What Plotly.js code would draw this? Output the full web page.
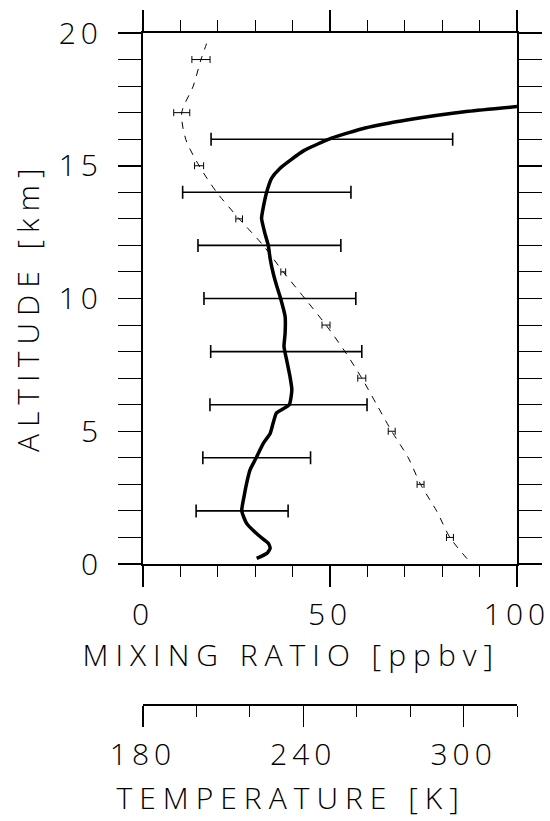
<!DOCTYPE html>
<html>
<head>
<meta charset="utf-8">
<script src="https://cdn.plot.ly/plotly-3.0.1.min.js"></script>
<style>
  html, body { margin: 0; padding: 0; background: #fff; }
  #chart { width: 550px; height: 821px; }
  #chart svg text { letter-spacing: 5px; }
  #chart .annotation text { letter-spacing: 7px; }
</style>
</head>
<body>
<div id="chart"></div>
<script>
// Mixing ratio profile (solid line)
const mrAltitude = [0.21, 0.40, 0.59, 0.78, 1.09, 1.53, 2.00, 2.53, 3.04, 3.54, 3.98, 4.55, 4.92, 5.31, 5.69, 6.00, 6.56, 7.06, 7.69, 8.19, 8.69, 9.32, 10.00, 10.50, 10.96, 11.50, 12.00, 12.45, 13.02, 13.46, 14.02, 14.53, 14.90, 15.56, 16.04, 16.42, 16.73, 17.05, 17.23];
const mrValue    = [30.4, 33.1, 34.0, 33.5, 30.8, 27.7, 26.4, 27.0, 27.7, 28.6, 30.2, 32.2, 34.0, 34.8, 35.7, 39.1, 39.8, 39.3, 38.4, 37.7, 38.0, 38.0, 36.8, 35.7, 34.8, 34.0, 33.5, 32.6, 31.7, 32.2, 33.1, 34.4, 36.6, 42.9, 50.4, 59.4, 70.9, 87.0, 100.0];

// Mixing ratio variability bars
const errAltitude = [2, 4, 6, 8, 10, 12, 14, 16];
const errCenter   = [26.5, 30.4, 38.9, 38.3, 36.6, 33.8, 33.1, 50.5];
const errHalf     = [12.3, 14.4, 21.0, 20.2, 20.3, 19.1, 22.5, 32.3];

// Temperature profile (dashed line)
const tAltitude = [0.2, 1, 2, 3, 4, 5, 6, 7, 8, 9, 10, 11, 12, 13, 14, 15, 16, 17, 18, 19, 19.6];
const tValue    = [301.3, 294.9, 289.9, 283.9, 279.3, 273.1, 267.5, 261.9, 255.6, 248.5, 240.6, 232.5, 225.0, 216.0, 207.6, 201.0, 196.0, 194.5, 198.8, 201.7, 203.8];

// Temperature error bars
const tErrAltitude = [1, 3, 5, 7, 9, 11, 13, 15, 17, 19];
const tErrValue    = [294.9, 283.9, 273.1, 261.9, 248.5, 232.5, 216.0, 201.0, 194.5, 201.7];
const tErrHalf     = [1.3, 1.3, 1.3, 1.5, 1.5, 0.9, 1.25, 1.7, 3.0, 3.4];

// Axis ticks
const mrTicks = [0, 50, 100];
const mrTickText = ['0', '50', '100'];
const mrMinor = [10, 20, 30, 40, 60, 70, 80, 90];
const altTicks = [0, 5, 10, 15, 20];
const altTickText = ['0', '5', '10', '15', '20'];
const altMinor = [1, 2, 3, 4, 6, 7, 8, 9, 11, 12, 13, 14, 16, 17, 18, 19];
const tTicks = [180, 240, 300];
const tTickText = ['180', '240', '300'];
const tMinor = [200, 220, 260, 280, 320];

const FONT = {family: 'Open Sans, Liberation Sans, sans-serif', size: 30, color: '#000', weight: 300};

const traces = [
  {
    x: tValue, y: tAltitude, xaxis: 'x2', yaxis: 'y',
    type: 'scatter', mode: 'lines',
    line: {color: '#000', width: 1, dash: '7px,7px', shape: 'spline', smoothing: 0.8},
    hoverinfo: 'skip'
  },
  {
    x: tErrValue, y: tErrAltitude, xaxis: 'x2', yaxis: 'y',
    type: 'scatter', mode: 'markers',
    marker: {size: 1, color: 'rgba(0,0,0,0)'},
    error_x: {type: 'data', array: tErrHalf, symmetric: true, color: '#000', thickness: 1, width: 3.5},
    hoverinfo: 'skip'
  },
  {
    x: errCenter, y: errAltitude, xaxis: 'x', yaxis: 'y',
    type: 'scatter', mode: 'markers',
    marker: {size: 1, color: 'rgba(0,0,0,0)'},
    error_x: {type: 'data', array: errHalf, symmetric: true, color: '#000', thickness: 1.6, width: 6.5},
    hoverinfo: 'skip'
  },
  {
    x: mrValue, y: mrAltitude, xaxis: 'x', yaxis: 'y',
    type: 'scatter', mode: 'lines',
    line: {color: '#000', width: 3.5, shape: 'spline', smoothing: 0.5},
    hoverinfo: 'skip'
  }
];

const axisCommon = {
  showline: true, linecolor: '#000', linewidth: 2,
  ticks: 'outside', tickcolor: '#000', tickwidth: 1.5,
  showgrid: false, zeroline: false, tickfont: FONT, tickmode: 'array'
};

const layout = {
  width: 550, height: 821,
  margin: {l: 143, r: 33, t: 33, b: 117, pad: 0},
  paper_bgcolor: '#fff', plot_bgcolor: 'rgba(0,0,0,0)',
  showlegend: false,
  font: FONT,
  xaxis: Object.assign({}, axisCommon, {
    range: [0, 100], domain: [0, 1], anchor: 'y', mirror: 'allticks',
    tickvals: mrTicks, ticktext: mrTickText, ticklen: 21, ticklabelstandoff: 2,
    minor: {tickmode: 'array', tickvals: mrMinor, ticks: 'outside', ticklen: 11, tickwidth: 1, tickcolor: '#000', showgrid: false}
  }),
  yaxis: Object.assign({}, axisCommon, {
    range: [0, 20], domain: [0.20864, 1], anchor: 'x', mirror: 'allticks',
    tickvals: altTicks, ticktext: altTickText, ticklen: 23, ticklabelstandoff: 9,
    minor: {tickmode: 'array', tickvals: altMinor, ticks: 'outside', ticklen: 12, tickwidth: 1, tickcolor: '#000', showgrid: false}
  }),
  xaxis2: Object.assign({}, axisCommon, {
    range: [180, 320], domain: [0, 1], anchor: 'free', position: 0, side: 'bottom',
    linewidth: 1.5,
    tickvals: tTicks, ticktext: tTickText, ticklen: 21, ticklabelstandoff: 2,
    minor: {tickmode: 'array', tickvals: tMinor, ticks: 'outside', ticklen: 11, tickwidth: 1, tickcolor: '#000', showgrid: false}
  }),
  annotations: [
    {text: 'MIXING RATIO [ppbv]', xref: 'paper', yref: 'paper', x: 0.397, y: 0.0745,
     xanchor: 'center', yanchor: 'middle', showarrow: false, font: FONT},
    {text: 'TEMPERATURE [K]', xref: 'paper', yref: 'paper', x: 0.397, y: -0.140,
     xanchor: 'center', yanchor: 'middle', showarrow: false, font: FONT},
    {text: 'ALTITUDE [km]', xref: 'paper', yref: 'paper', x: -0.309, y: 0.593,
     xanchor: 'center', yanchor: 'middle', textangle: -90, showarrow: false, font: FONT}
  ]
};

Plotly.newPlot('chart', traces, layout, {staticPlot: true, displayModeBar: false});
</script>
</body>
</html>
